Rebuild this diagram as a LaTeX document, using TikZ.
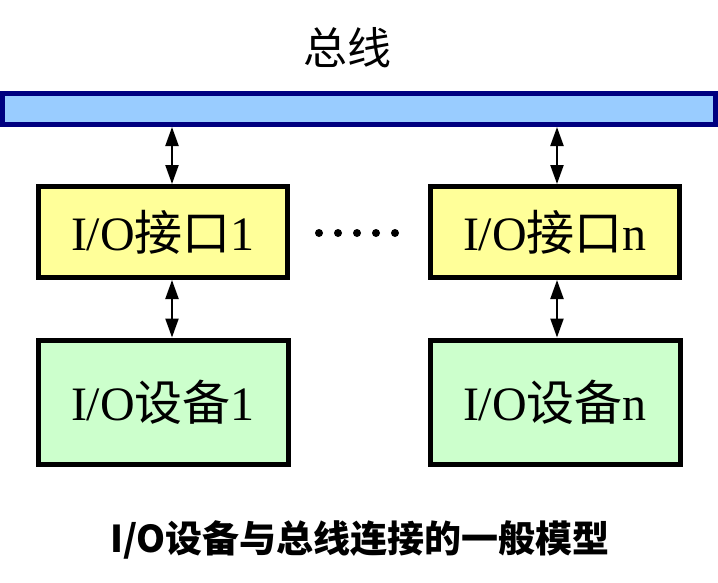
\documentclass[tikz,border=0pt]{standalone}
\usepackage{fontspec}
\setmainfont{Liberation Serif}
\newfontfamily\cjk{Noto Sans CJK SC}
\usetikzlibrary{arrows.meta}
\definecolor{busfill}{HTML}{99CCFF}
\definecolor{busline}{HTML}{000080}
\definecolor{iffill}{HTML}{FFFF99}
\definecolor{devfill}{HTML}{CCFFCC}
\tikzset{
  busbox/.style={draw=busline, fill=busfill, line width=5pt, minimum width=713pt, minimum height=31pt, inner sep=0pt},
  ifbox/.style={draw=black, fill=iffill, line width=5pt, minimum width=249pt, minimum height=91pt, inner sep=0pt,
    font=\fontsize{48}{48}\selectfont},
  devbox/.style={draw=black, fill=devfill, line width=5pt, minimum width=250pt, minimum height=124pt, inner sep=0pt,
    font=\fontsize{48}{48}\selectfont},
  arr/.style={line width=2.2pt, {Triangle[length=19pt,width=13pt]}-{Triangle[length=19pt,width=13pt]}},
  dotmark/.style={fill=black, circle, inner sep=0pt, minimum size=8pt}
}
\begin{document}
\begin{tikzpicture}[x=1pt,y=-1pt]
\useasboundingbox (0,0) rectangle (718,582);
\node (title) at (347,48) {\cjk\fontsize{44}{44}\selectfont 总线};
\node[busbox] (bus) at (359,109) {};
\node[ifbox] (if1) at (163,232) {I/O{\cjk 接口}1};
\node[ifbox] (ifn) at (555,232) {I/O{\cjk 接口}n};
\node[devbox] (dev1) at (163,402) {I/O{\cjk 设备}1};
\node[devbox] (devn) at (555,402) {I/O{\cjk 设备}n};
\draw[arr] (if1.north -| 172,0) -- (bus.south -| 172,0);
\draw[arr] (ifn.north -| 557,0) -- (bus.south -| 557,0);
\draw[arr] (if1.south -| 172,0) -- (dev1.north -| 172,0);
\draw[arr] (ifn.south -| 557,0) -- (devn.north -| 557,0);
\foreach \i/\x in {1/319,2/338,3/357,4/376,5/395} \node[dotmark] (d\i) at (\x,233) {};
\node (cap) at (360,540) {\cjk\bfseries\fontsize{37}{37}\selectfont I/O设备与总线连接的一般模型};
\end{tikzpicture}
\end{document}
